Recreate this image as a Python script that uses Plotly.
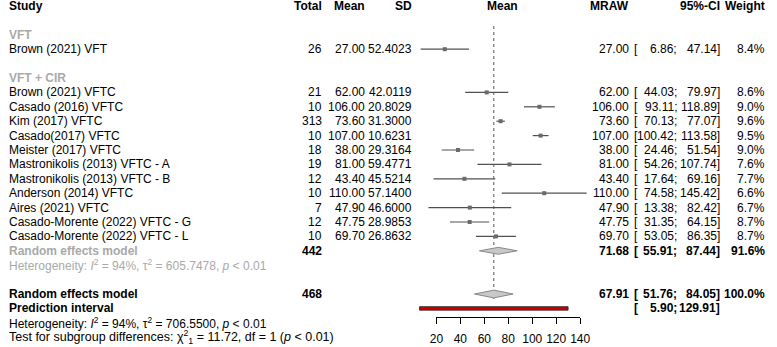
import plotly.graph_objects as go

W, H = 777, 347
FONT = "Liberation Sans, Arial, sans-serif"
GRAY = "#a9a9a9"

# ---------------- data ----------------
studies = ["Brown (2021) VFT", "Brown (2021) VFTC", "Casado (2016) VFTC", "Kim (2017) VFTC",
           "Casado(2017) VFTC", "Meister (2017) VFTC", "Mastronikolis (2013) VFTC - A",
           "Mastronikolis (2013) VFTC - B", "Anderson (2014) VFTC", "Aires (2021) VFTC",
           "Casado-Morente (2022) VFTC - G", "Casado-Morente (2022) VFTC - L"]
group_labels = ["VFT", "VFT + CIR"]
total = [26, 21, 10, 313, 10, 18, 19, 12, 10, 7, 12, 10]
mean = [27.00, 62.00, 106.00, 73.60, 107.00, 38.00, 81.00, 43.40, 110.00, 47.90, 47.75, 69.70]
sd = [52.4023, 42.0119, 20.8029, 31.3000, 10.6231, 29.3164, 59.4771, 45.5214, 57.1400,
      46.6000, 28.9853, 26.8632]
lower = [6.86, 44.03, 93.11, 70.13, 100.42, 24.46, 54.26, 17.64, 74.58, 13.38, 31.35, 53.05]
upper = [47.14, 79.97, 118.89, 77.07, 113.58, 51.54, 107.74, 69.16, 145.42, 82.42, 64.15, 86.35]
weight = [8.4, 8.6, 9.0, 9.6, 9.5, 9.0, 7.6, 7.7, 6.6, 6.7, 8.7, 8.7]

sub_total = 442
sub_est, sub_lo, sub_hi, sub_w = 71.68, 55.91, 87.44, 91.6
sub_het = "Heterogeneity: <i>I</i><sup>2</sup> = 94%, τ<sup>2</sup> = 605.7478, <i>p</i> &lt; 0.01"

all_total = 468
all_est, all_lo, all_hi, all_w = 67.91, 51.76, 84.05, 100.0
pi_lo, pi_hi = 5.90, 129.91
all_het = "Heterogeneity: <i>I</i><sup>2</sup> = 94%, τ<sup>2</sup> = 706.5500, <i>p</i> &lt; 0.01"
sub_test = "Test for subgroup differences: χ<sup>2</sup><sub>1</sub> = 11.72, df = 1 (<i>p</i> &lt; 0.01)"

tick_vals = [20, 40, 60, 80, 100, 120, 140]

# ---------------- layout geometry ----------------
study_rows = [3, 6, 7, 8, 9, 10, 11, 12, 13, 14, 15, 16]
group_rows = [2, 5]
ROW0, ROWH = 6.0, 14.4          # px of row 0, px per row
X0, XS = 414.5, 1.225           # px of value 0, px per unit


def px(v):
    return X0 + XS * v


xr = [-X0 / XS, (W - X0) / XS]
yr = [(H - ROW0) / ROWH, -ROW0 / ROWH]

COL_TOTAL, COL_MEAN, COL_SD = 323.5, 367.0, 415.5
COL_PLOTHDR = 506.5
COL_MRAW, COL_CIL, COL_CIS, COL_CIR, COL_W = 637.0, 640.5, 686.0, 729.5, 775.5

ann = []


def txt(x, row, s, anchor="left", bold=False, color="#000000", size=12):
    ann.append(dict(x=x / W, xref="paper", y=row, yref="y", text=f"<b>{s}</b>" if bold else s,
                    xanchor=anchor, yanchor="middle", showarrow=False, borderpad=0,
                    font=dict(family=FONT, size=size, color=color)))


def ci(row, lo, hi, bold=False, color="#000000"):
    txt(COL_CIL, row, "[", "left", bold, color)
    txt(COL_CIS, row, f"{lo:.2f};", "right", bold, color)
    txt(COL_CIR, row, f"{hi:.2f}]", "right", bold, color)


# header
txt(1, 0, "Study", "left", True)
txt(COL_TOTAL, 0, "Total", "right", True)
txt(COL_MEAN, 0, "Mean", "right", True)
txt(COL_SD, 0, "SD", "right", True)
txt(COL_PLOTHDR, 0, "Mean", "center", True)
txt(COL_MRAW, 0, "MRAW", "right", True)
txt(COL_CIR, 0, "95%-CI", "right", True)
txt(COL_W, 0, "Weight", "right", True)

for g, r in zip(group_labels, group_rows):
    txt(1, r, g, "left", True, GRAY)

for i, r in enumerate(study_rows):
    txt(1, r, studies[i])
    txt(COL_TOTAL, r, f"{total[i]}", "right")
    txt(COL_MEAN, r, f"{mean[i]:.2f}", "right")
    txt(COL_SD, r, f"{sd[i]:.4f}", "right")
    txt(COL_MRAW, r, f"{mean[i]:.2f}", "right")
    ci(r, lower[i], upper[i])
    txt(COL_W, r, f"{weight[i]:.1f}%", "right")

# subgroup summary
txt(1, 17, "Random effects model", "left", True, GRAY)
txt(COL_TOTAL, 17, f"{sub_total}", "right", True)
txt(COL_MRAW, 17, f"{sub_est:.2f}", "right", True)
ci(17, sub_lo, sub_hi, True)
txt(COL_W, 17, f"{sub_w:.1f}%", "right", True)
txt(1, 18, sub_het, "left", False, GRAY, 12)

# overall
txt(1, 20, "Random effects model", "left", True)
txt(COL_TOTAL, 20, f"{all_total}", "right", True)
txt(COL_MRAW, 20, f"{all_est:.2f}", "right", True)
ci(20, all_lo, all_hi, True)
txt(COL_W, 20, f"{all_w:.1f}%", "right", True)
txt(1, 21, "Prediction interval", "left", True)
ci(21, pi_lo, pi_hi, True)
txt(1, 22, all_het, "left", size=12)
txt(1, 23, sub_test, "left", size=12.5)

fig = go.Figure()

# reference line at overall estimate
fig.add_trace(go.Scatter(x=[all_est, all_est], y=[1.39, 20.4], mode="lines",
                         line=dict(color="#555555", width=1, dash="dot"), hoverinfo="skip"))

# CI lines
xs, ys = [], []
for i, r in enumerate(study_rows):
    xs += [lower[i], upper[i], None]
    ys += [r, r, None]
fig.add_trace(go.Scatter(x=xs, y=ys, mode="lines", line=dict(color="#505050", width=1.2),
                         hoverinfo="skip"))
# squares
fig.add_trace(go.Scatter(x=mean, y=study_rows, mode="markers",
                         marker=dict(symbol="square", size=4, color="#6a6a6a", line=dict(width=0)),
                         hoverinfo="skip"))

# diamonds
for r, est, lo, hi, h in [(17, sub_est, sub_lo, sub_hi, 0.24), (20, all_est, all_lo, all_hi, 0.27)]:
    fig.add_trace(go.Scatter(x=[lo, est, hi, est, lo], y=[r, r - h, r, r + h, r], mode="lines",
                             fill="toself", fillcolor="#c8c8c8",
                             line=dict(color="#8a8a8a", width=1), hoverinfo="skip"))

# prediction interval bar
ph = 0.12
fig.add_trace(go.Scatter(x=[pi_lo, pi_hi, pi_hi, pi_lo, pi_lo],
                         y=[21 - ph, 21 - ph, 21 + ph, 21 + ph, 21 - ph], mode="lines",
                         fill="toself", fillcolor="#cc0000",
                         line=dict(color="#222222", width=0.8), hoverinfo="skip"))

# dummy trace for the tick axis
fig.add_trace(go.Scatter(x=[tick_vals[0]], y=[0], xaxis="x2", yaxis="y2", mode="markers",
                         marker=dict(opacity=0), hoverinfo="skip"))

axis_px = 317.0
yb = 1 - axis_px / H

fig.update_layout(
    width=W, height=H, margin=dict(l=0, r=0, t=0, b=0),
    paper_bgcolor="white", plot_bgcolor="rgba(0,0,0,0)", showlegend=False,
    xaxis=dict(range=xr, visible=False, domain=[0, 1], fixedrange=True),
    yaxis=dict(range=yr, visible=False, domain=[0, 1], fixedrange=True),
    xaxis2=dict(domain=[px(tick_vals[0]) / W, px(tick_vals[-1]) / W],
                range=[tick_vals[0], tick_vals[-1]], anchor="y2",
                showline=True, linecolor="#000000", linewidth=1,
                ticks="outside", ticklen=6, tickwidth=1, tickcolor="#000000",
                tickvals=tick_vals, ticktext=[str(t) for t in tick_vals],
                tickfont=dict(family=FONT, size=12, color="#000000"),
                ticklabelstandoff=5,
                showgrid=False, zeroline=False, fixedrange=True),
    yaxis2=dict(domain=[yb, yb + 0.001], anchor="x2", visible=False, fixedrange=True),
    annotations=ann,
)

fig.write_html("out.html", config={"displayModeBar": False, "staticPlot": True},
               post_script="document.body.style.margin='0';document.body.style.padding='0';"
                           "document.body.style.overflow='hidden';")
